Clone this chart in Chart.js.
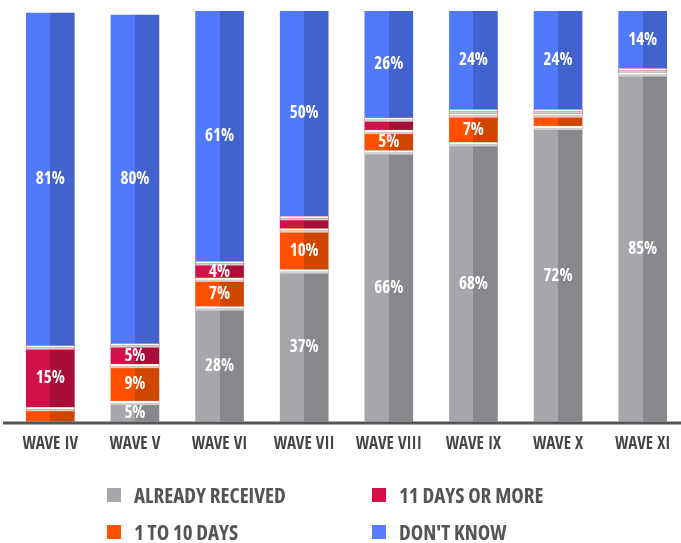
<!DOCTYPE html>
<html>
<head>
<meta charset="utf-8">
<script src="https://cdn.jsdelivr.net/npm/chart.js@4"></script>
<style>
  html, body { margin: 0; padding: 0; background: #fff; overflow: hidden; }
  #wrap { position: relative; width: 690px; height: 472px; }
  .legend { position: absolute; left: 0; top: 0; width: 681px; height: 543px; pointer-events: none;
            font-family: 'Open Sans', sans-serif; font-stretch: 75%; font-weight: bold;
            font-size: 21px; color: #555; }
  .item { position: absolute; display: flex; align-items: center; }
  .box { width: 14px; height: 14px; margin-right: 13px; }
</style>
</head>
<body>
<div id="wrap"><canvas id="waveChart"></canvas></div>
<div class="legend" id="legend"></div>
<script>
var waves    = ['WAVE IV', 'WAVE V', 'WAVE VI', 'WAVE VII', 'WAVE VIII', 'WAVE IX', 'WAVE X', 'WAVE XI'];
var received = [0, 5, 28, 37, 66, 68, 72, 85];
var oneToTen = [3.5, 9, 7, 10, 5, 7, 3, 0];
var elevenUp = [15, 5, 4, 3, 3, 1, 1, 1];
var dontKnow = [81, 80, 61, 50, 26, 24, 24, 14];

var seriesNames = ['ALREADY RECEIVED', '1 TO 10 DAYS', '11 DAYS OR MORE', "DON'T KNOW"];
var lightColors = ['#a6a7ab', '#fe5000', '#d2114a', '#5079fb'];
var darkColors  = ['#87888c', '#cf4600', '#a80e37', '#4262cd'];
var legendColors = ['#a6a7ab', '#ff5000', '#d31048', '#5a7dff'];

var fontFamily = "'Open Sans', sans-serif";
var tickFamily = "'Open Sans Condensed', 'Open Sans', sans-serif";

function splitFill(i) {
    return function (ctx) {
        var chart = ctx.chart;
        var xs = chart.scales.x;
        if (!xs || ctx.dataIndex === undefined) return lightColors[i];
        var cx = xs.getPixelForValue(ctx.dataIndex);
        if (!isFinite(cx)) return lightColors[i];
        var g = chart.ctx.createLinearGradient(cx - 24, 0, cx + 24, 0);
        g.addColorStop(0, lightColors[i]);
        g.addColorStop(0.5, lightColors[i]);
        g.addColorStop(0.5, darkColors[i]);
        g.addColorStop(1, darkColors[i]);
        return g;
    };
}

// axis line runs a bit left of the first bar slot
var axisLine = {
    id: 'axisLine',
    afterDraw: function (chart) {
        var ctx = chart.ctx;
        var a = chart.chartArea;
        ctx.save();
        ctx.strokeStyle = '#555555';
        ctx.lineWidth = 3;
        ctx.beginPath();
        ctx.moveTo(3, a.bottom + 1.5);
        ctx.lineTo(a.right, a.bottom + 1.5);
        ctx.stroke();
        ctx.restore();
    }
};

// white + light grey separator on top of lower segments, and white % labels
var segmentDecor = {
    id: 'segmentDecor',
    afterDatasetsDraw: function (chart) {
        var ctx = chart.ctx;
        var sets = chart.data.datasets;
        ctx.save();
        sets.forEach(function (ds, i) {
            var meta = chart.getDatasetMeta(i);
            meta.data.forEach(function (bar, j) {
                var v = ds.data[j];
                if (!v) return;
                var top = Math.min(bar.y, bar.base);
                var x0 = bar.x - bar.width / 2;
                if (i < sets.length - 1) {
                    ctx.fillStyle = '#ffffff';
                    ctx.fillRect(x0, top, bar.width, 2);
                    ctx.fillStyle = '#d0d0d0';
                    ctx.fillRect(x0, top + 2, bar.width, 2);
                }
            });
        });
        ctx.fillStyle = '#ffffff';
        ctx.font = 'bold 17px ' + fontFamily;
        if ('fontStretch' in ctx) ctx.fontStretch = 'condensed';
        ctx.textAlign = 'center';
        ctx.textBaseline = 'middle';
        sets.forEach(function (ds, i) {
            var meta = chart.getDatasetMeta(i);
            meta.data.forEach(function (bar, j) {
                var v = ds.data[j];
                if (v < 4) return;
                var top = Math.min(bar.y, bar.base);
                var bottom = Math.max(bar.y, bar.base);
                var off = i < sets.length - 1 ? 2 : 0;
                ctx.fillText(v + '%', bar.x, (top + bottom) / 2 + off);
            });
        });
        ctx.restore();
    }
};

var canvas = document.getElementById('waveChart');
new Chart(canvas, {
    type: 'bar',
    data: {
        labels: waves,
        datasets: [received, oneToTen, elevenUp, dontKnow].map(function (vals, i) {
            return {
                label: seriesNames[i],
                data: vals,
                backgroundColor: splitFill(i),
                borderWidth: 0,
                barThickness: 48
            };
        })
    },
    options: {
        responsive: true,
        maintainAspectRatio: false,
        animation: false,
        layout: { padding: { left: 8, right: 5, top: 11, bottom: 4 } },
        plugins: {
            legend: { display: false },
            tooltip: { enabled: false }
        },
        scales: {
            x: {
                stacked: true,
                grid: { display: false, drawTicks: false },
                border: { display: false },
                ticks: {
                    color: '#454545',
                    padding: 13,
                    font: { family: tickFamily, size: 17, weight: 'bold' }
                }
            },
            y: {
                stacked: true,
                display: false,
                min: 0,
                max: 100
            }
        }
    },
    plugins: [axisLine, segmentDecor]
});

// legend in two columns: received / 11+ days on the first row
var legendEl = document.getElementById('legend');
var slots = [
    { s: 0, x: 107, y: 495 },
    { s: 2, x: 372, y: 495 },
    { s: 1, x: 107, y: 532 },
    { s: 3, x: 372, y: 532 }
];
slots.forEach(function (p) {
    var it = document.createElement('div');
    it.className = 'item';
    it.style.left = p.x + 'px';
    it.style.top = (p.y - 12) + 'px';
    it.style.height = '24px';
    var box = document.createElement('span');
    box.className = 'box';
    box.style.background = legendColors[p.s];
    var txt = document.createElement('span');
    txt.textContent = seriesNames[p.s];
    it.appendChild(box);
    it.appendChild(txt);
    legendEl.appendChild(it);
});
</script>
</body>
</html>
